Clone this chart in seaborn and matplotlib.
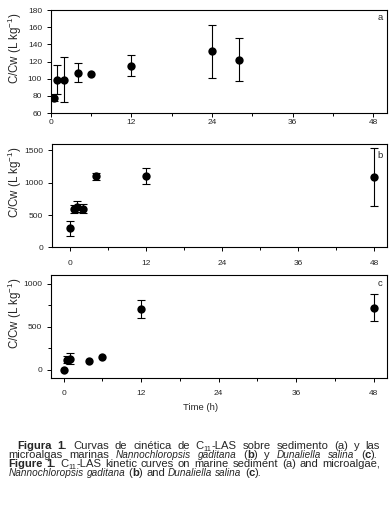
import numpy as np
import pandas as pd
import matplotlib
matplotlib.use("Agg")
import matplotlib.pyplot as plt
import seaborn as sns
from matplotlib.ticker import MultipleLocator
from matplotlib.transforms import IdentityTransform

### Data (time in h, C/Cw in L kg-1, error = +/- half bar)
a_time = [0.5, 1, 2, 4, 6, 12, 24, 28]
a_val = [78, 99, 99, 107, 106, 115, 132, 122]
a_err = [4, 17, 26, 11, np.nan, 12, 31, 25]

b_time = [0, 0.5, 1, 2, 4, 12, 48]
b_val = [295, 595, 630, 600, 1100, 1100, 1090]
b_err = [115, 60, 80, 75, 57, 125, 450]

c_time = [0, 0.5, 1, 4, 6, 12, 48]
c_val = [0, 115, 130, 103, 142, 700, 722]
c_err = [np.nan, 40, 60, np.nan, np.nan, 105, 153]

x_ticks = [0, 12, 24, 36, 48]
panel_letters = ["a", "b", "c"]

### Style
sns.set_style("ticks")
plt.rcParams["font.family"] = ["Liberation Sans", "DejaVu Sans"]
plt.rcParams["mathtext.fontset"] = "custom"
plt.rcParams["mathtext.rm"] = "Liberation Sans"
plt.rcParams["mathtext.it"] = "Liberation Sans:italic"

W, H = 390, 508
fig = plt.figure(figsize=(W / 100, H / 100), dpi=100)

# axes boxes in pixels: left, top, right, bottom
boxes = [(50.7, 10, 386.7, 113), (51.5, 144, 386.7, 247.3), (50.7, 275, 386.7, 378.3)]
xlims = [(0, 50), (-3, 50), (-2, 50)]
ylims = [(60, 180), (0, 1600), (-100, 1100)]
ysteps = [20, 500, 500]
yminor = [None, None, 250]
xpads = [1.2, 6.5, 5.5]
letter_y = [0.93, 0.893, 0.913]

panels = [(a_time, a_val, a_err), (b_time, b_val, b_err), (c_time, c_val, c_err)]

for i, (t, v, e) in enumerate(panels):
    l, tp, r, b = boxes[i]
    ax = fig.add_axes([l / W, 1 - b / H, (r - l) / W, (b - tp) / H])
    df = pd.DataFrame({"time": t, "value": v, "err": e})

    # error bars only where there is one
    m = df["err"].notna()
    ax.errorbar(df.loc[m, "time"], df.loc[m, "value"], yerr=df.loc[m, "err"],
                fmt="none", ecolor="black", elinewidth=0.8, capsize=2.6, capthick=0.8, zorder=2)
    sns.scatterplot(data=df, x="time", y="value", color="black", edgecolor="black",
                    s=36, linewidth=0, ax=ax, zorder=3)

    ax.set_xlim(*xlims[i])
    ax.set_xticks(x_ticks)
    ax.xaxis.set_minor_locator(MultipleLocator(6))
    ax.yaxis.set_major_locator(MultipleLocator(ysteps[i]))
    if yminor[i]:
        ax.yaxis.set_minor_locator(MultipleLocator(yminor[i]))
    ax.set_ylim(*ylims[i])

    for s in ax.spines.values():
        s.set_visible(True)
        s.set_linewidth(0.8)
        s.set_color("black")
    ax.tick_params(which="major", length=3, width=0.7, labelsize=6, direction="out", color="black")
    ax.tick_params(which="minor", length=2, width=0.7, direction="out", color="black")
    ax.tick_params(axis="x", which="major", pad=xpads[i])
    ax.tick_params(axis="y", which="major", pad=3.2)

    ax.set_xlabel("")
    ax.set_ylabel(r"C/Cw (L kg$^{-1}$)", fontsize=8.3)
    ax.yaxis.set_label_coords((15 - l) / (r - l), 0.63)
    ax.yaxis.label.set_va("center")
    ax.yaxis.label.set_ha("center")

    ax.text(0.98, letter_y[i], panel_letters[i], transform=ax.transAxes,
            fontsize=6.8, ha="center", va="center")

fig.text(200.3 / W, 1 - 407 / H, "Time (h)", fontsize=6.8, ha="center", va="center")

### Caption, placed word by word so the lines can be justified
styles = {"n": dict(), "b": dict(weight="bold"), "i": dict(style="italic"), "s": dict()}
sizes = {"n": 8.1, "b": 8.1, "i": 7.2, "s": 5.4}

caption = [
    ([("Figura 1.", "b"), (" Curvas de cinética de C", "n"), ("11", "s"),
      ("-LAS sobre sedimento (a) y las", "n")], 17.3, 449, 380),
    ([("microalgas marinas ", "n"), ("Nannochloropsis gaditana", "i"), (" (", "n"), ("b", "b"),
      (") y ", "n"), ("Dunaliella salina", "i"), (" (", "n"), ("c", "b"), (").", "n")], 8.3, 458.2, 378),
    ([("Figure 1.", "b"), (" C", "n"), ("11", "s"),
      ("-LAS kinetic curves on marine sediment (a) and microalgae,", "n")], 8.3, 467.3, 380),
    ([("Nannochloropsis gaditana", "i"), (" (", "n"), ("b", "b"), (") and ", "n"),
      ("Dunaliella salina", "i"), (" (", "n"), ("c", "b"), (").", "n")], 8.3, 476.4, None),
]

renderer = fig.canvas.get_renderer()


def seg_width(txt, st):
    tt = fig.text(0, 0, txt, fontsize=sizes[st], transform=IdentityTransform(), **styles[st])
    w = tt.get_window_extent(renderer).width
    tt.remove()
    return w


space_w = seg_width("a a", "n") - seg_width("aa", "n")

for pieces, x0, ybase, x1 in caption:
    words = [[]]
    for txt, st in pieces:
        parts = txt.split(" ")
        for k, p in enumerate(parts):
            if k > 0:
                words.append([])
            if p:
                words[-1].append((p, st))
    words = [w for w in words if w]
    widths = [[seg_width(p, st) for p, st in w] for w in words]
    total = sum(sum(w) for w in widths)
    gap = space_w
    if x1 is not None and len(words) > 1:
        gap = (x1 - x0 - total) / (len(words) - 1)
    x = x0
    for w, ws in zip(words, widths):
        for (p, st), pw in zip(w, ws):
            dy = -2.0 if st == "s" else 0
            fig.text(x, H - ybase + dy, p, fontsize=sizes[st], transform=IdentityTransform(),
                     ha="left", va="baseline", **styles[st])
            x += pw
        x += gap

fig.savefig("out.png", dpi=100)
